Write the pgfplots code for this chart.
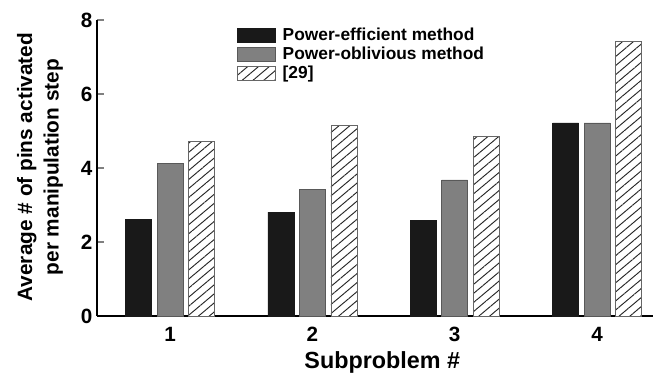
\documentclass[border=0pt]{standalone}
\usepackage{pgfplots}
\pgfplotsset{compat=1.18}
\usepackage{fontspec}
\setmainfont{Liberation Sans}
\usetikzlibrary{patterns.meta}
\begin{document}
\begin{tikzpicture}
\begin{axis}[
  scale only axis,
  width=417pt, height=222pt,
  xmin=0.487, xmax=4.393,
  ymin=0, ymax=8,
  axis x line*=bottom, axis y line*=left,
  axis line style={line width=0.9pt, -},
  xtick={1,2,3,4},
  ytick={0,2,4,6,8},
  xtick style={draw=none},
  ytick style={line width=0.8pt},
  tick align=inside,
  major tick length=5pt,
  ticklabel style={font=\bfseries\fontsize{15.5}{17}\selectfont},
  /pgf/number format/assume math mode=true,
  xlabel={\bfseries Subproblem \#},
  xlabel style={font=\fontsize{17.5}{20}\selectfont, at={(rel axis cs:0.513,-0.178)}, anchor=base},
  ylabel style={font=\fontsize{15.6}{20}\selectfont, align=center, at={(rel axis cs:-0.1025,0.503)}, anchor=center},
  ylabel={\bfseries Average \# of pins activated\\\bfseries per manipulation step},
  ybar=4.1pt,
  bar width=19.5pt,
  legend style={at={(rel axis cs:0.252,0.984)}, anchor=north west, draw=none, fill=none,
    font=\bfseries\fontsize{13}{15}\selectfont, row sep=-0.5pt, inner sep=0pt,
    cells={anchor=west}},
  legend image code/.code={\draw[#1] (0cm,-5.2pt) rectangle (28pt,5.2pt); \path (31.5pt,0pt);},
  clip=false,
]
\addplot[fill=black!90, draw=black!90, line width=0.5pt] coordinates {(1,2.62) (2,2.81) (3,2.59) (4,5.22)};
\addlegendentry{Power-efficient method}
\addplot[fill=black!50, draw=black!65, line width=0.5pt] coordinates {(1,4.13) (2,3.42) (3,3.68) (4,5.22)};
\addlegendentry{Power-oblivious method}
\addplot[fill=white, draw=black!60, line width=0.5pt,
  postaction={pattern={Lines[angle=40,distance=5.2pt,line width=0.7pt]}, pattern color=black!85}]
  coordinates {(1,4.71) (2,5.14) (3,4.86) (4,7.43)};
\addlegendentry{{}[29]}
\coordinate (bbl) at (rel axis cs:-0.1745,-0.196);
\coordinate (btr) at (rel axis cs:1,1.0676);
\end{axis}
\pgfresetboundingbox
\path[use as bounding box] (bbl) rectangle (btr);
\end{tikzpicture}
\end{document}
